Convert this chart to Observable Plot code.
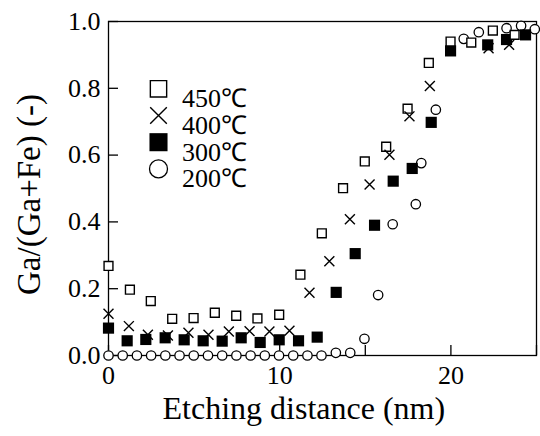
<!DOCTYPE html>
<html><head><meta charset="utf-8">
<script src="https://cdn.jsdelivr.net/npm/d3@7"></script>
<script src="https://cdn.jsdelivr.net/npm/@observablehq/plot@0.6"></script>
<style>body{margin:0;background:#fff}</style>
</head><body><div id="chart"></div>
<script>
// ---- data ----
const seriesNames = ["450℃", "400℃", "300℃", "200℃"];

const x450 = [0, 1.25, 2.47, 3.72, 4.97, 6.21, 7.46, 8.70, 9.97, 11.21, 12.46, 13.70, 14.97, 16.22, 17.47, 18.71, 19.98, 21.19, 22.45, 23.72];
const y450 = [0.268, 0.197, 0.163, 0.110, 0.112, 0.128, 0.119, 0.111, 0.122, 0.242, 0.366, 0.501, 0.581, 0.625, 0.739, 0.876, 0.940, 0.937, 0.973, 0.960];

const x400 = [0, 1.19, 2.30, 3.47, 4.67, 5.84, 7.03, 8.24, 9.40, 10.57, 11.74, 12.90, 14.10, 15.25, 16.41, 17.58, 18.77, 22.20, 23.40];
const y400 = [0.125, 0.088, 0.062, 0.060, 0.068, 0.062, 0.072, 0.073, 0.072, 0.074, 0.188, 0.282, 0.408, 0.512, 0.601, 0.716, 0.807, 0.920, 0.930];

const x300 = [0, 1.09, 2.18, 3.31, 4.42, 5.53, 6.64, 7.75, 8.86, 9.97, 11.10, 12.19, 13.30, 14.41, 15.54, 16.63, 17.74, 18.85, 19.98, 22.15, 23.25, 24.36];
const y300 = [0.082, 0.044, 0.048, 0.053, 0.047, 0.044, 0.043, 0.053, 0.039, 0.047, 0.044, 0.055, 0.189, 0.305, 0.390, 0.522, 0.560, 0.698, 0.912, 0.930, 0.946, 0.960];

const x200 = [0, 0.83, 1.66, 2.49, 3.32, 4.15, 4.98, 5.81, 6.64, 7.47, 8.30, 9.13, 9.96, 10.79, 11.62, 12.44, 13.28, 14.12, 14.95, 15.75, 16.60, 17.95, 18.27, 19.12, 20.75, 21.63, 23.25, 24.10, 24.90];
const y200 = [0, 0, 0, 0, 0, 0, 0, 0, 0, 0, 0, 0, 0, 0, 0, 0, 0.008, 0.008, 0.050, 0.181, 0.393, 0.453, 0.576, 0.736, 0.948, 0.968, 0.980, 0.987, 0.977];

const xTickLabels = [0, 10, 20];
const xTickMarks = [0, 10, 15, 20, 25];
const yTicks = [0, 0.2, 0.4, 0.6, 0.8, 1.0];
const xLabel = "Etching distance (nm)";
const yLabel = "Ga/(Ga+Fe) (-)";

// ---- styles ----
const font = "Liberation Serif";
const rows = (xs, ys) => xs.map((x, i) => ({x, y: ys[i]}));
const series = [
  {data: rows(x450, y450), symbol: "square", fill: "white", stroke: "black", r: 5.0, sw: 1.4, lr: 9.2},
  {data: rows(x400, y400), symbol: "times", fill: "none", stroke: "black", r: 4.6, sw: 1.4, lr: 7.6},
  {data: rows(x300, y300), symbol: "square", fill: "black", stroke: "none", r: 6.3, sw: 0, lr: 10.2},
  {data: rows(x200, y200), symbol: "circle", fill: "white", stroke: "black", r: 4.7, sw: 1.3, lr: 9.0}
];
const drawOrder = [3, 2, 0, 1];
const txt = {fontFamily: font, fill: "black"};

const marks = [
  Plot.frame({stroke: "black", strokeWidth: 1.3}),
  Plot.axisX(xTickMarks, {tickSize: -10, tickFormat: () => null, strokeWidth: 1.3, label: null}),
  Plot.axisX(xTickLabels, {tickSize: 0, tickPadding: 10, fontSize: 26, tickFormat: d => String(d), label: null, ...txt}),
  Plot.axisY(yTicks, {tickSize: -10, tickFormat: () => null, strokeWidth: 1.3, label: null}),
  Plot.axisY(yTicks, {tickSize: 0, tickPadding: 8, fontSize: 26, tickFormat: d3.format(".1f"), label: null, ...txt})
];
for (const i of drawOrder) {
  const s = series[i];
  marks.push(Plot.dot(s.data, {x: "x", y: "y", symbol: s.symbol, r: s.r, fill: s.fill, stroke: s.stroke, strokeWidth: s.sw}));
}
seriesNames.forEach((name, i) => {
  const s = series[i];
  const dy = 67.3 + i * 26.7;
  marks.push(Plot.dot([name], {frameAnchor: "top-left", dx: 50, dy, symbol: s.symbol, r: s.lr, fill: s.fill, stroke: s.stroke, strokeWidth: s.sw}));
  marks.push(Plot.text([name], {frameAnchor: "top-left", dx: 73.5, dy, text: d => d, textAnchor: "start", fontSize: 26, ...txt}));
});
marks.push(Plot.text([xLabel], {frameAnchor: "bottom-left", dx: 54, dy: 63, text: d => d, textAnchor: "start", fontSize: 32, ...txt}));
marks.push(Plot.text([yLabel], {frameAnchor: "left", dx: -78.6, dy: 6, rotate: -90, text: d => d, textAnchor: "middle", fontSize: 33, ...txt}));

const chart = Plot.plot({
  width: 540, height: 436,
  marginLeft: 108, marginRight: 4, marginTop: 21, marginBottom: 81,
  x: {domain: [0, 25], label: null},
  y: {domain: [0, 1], label: null},
  style: {fontFamily: font, background: "white", color: "black", overflow: "visible"},
  marks
});
document.getElementById("chart").appendChild(chart);
</script>
</body></html>
